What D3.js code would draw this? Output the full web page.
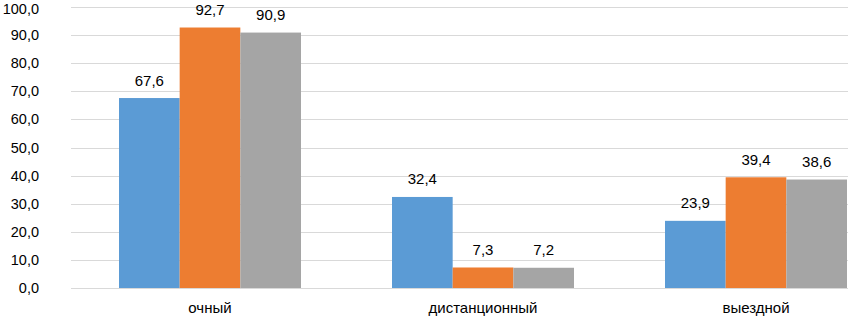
<!DOCTYPE html>
<html>
<head>
<meta charset="utf-8">
<script src="https://cdn.jsdelivr.net/npm/d3@7"></script>
<style>
  body { margin: 0; background: #fff; }
  text { font-family: "Liberation Sans", Arial, sans-serif; fill: #000; }
</style>
</head>
<body>
<svg width="848" height="316"></svg>
<script>
// data
const categories = ["очный", "дистанционный", "выездной"];
const seriesNames = ["s1", "s2", "s3"];
const s1 = [67.6, 32.4, 23.9];
const s2 = [92.7, 7.3, 39.4];
const s3 = [90.9, 7.2, 38.6];
const colors = ["#5b9bd5", "#ed7d31", "#a5a5a5"];
const yTicks = [0, 10, 20, 30, 40, 50, 60, 70, 80, 90, 100];

let svg = d3.select('svg');
let fmt = v => v.toFixed(1).replace('.', ',');

let y = d3.scaleLinear().domain([0, 100]).range([288, 7]);
// plot runs off the right edge, like the source image
let x0 = d3.scaleBand().domain(categories).range([73.5, 892.5])
  .paddingInner(1 / 3).paddingOuter(1 / 6);
let x1 = d3.scaleBand().domain(seriesNames).range([0, x0.bandwidth()]);

// grid
svg.append('g')
  .selectAll('line')
  .data(yTicks)
  .join('line')
  .attr('x1', 71).attr('x2', 848)
  .attr('y1', d => Math.round(y(d)) + 0.5)
  .attr('y2', d => Math.round(y(d)) + 0.5)
  .attr('stroke', '#d9d9d9')
  .attr('stroke-width', 1);

// y labels (top one kept inside the frame)
svg.append('g')
  .selectAll('text')
  .data(yTicks)
  .join('text')
  .attr('x', 39)
  .attr('y', d => Math.max(y(d) + 5, 13.5))
  .attr('text-anchor', 'end')
  .attr('font-size', 14.5)
  .text(fmt);

let allSeries = [s1, s2, s3];
let rows = [];
categories.forEach((c, i) => {
  allSeries.forEach((s, j) => {
    rows.push({ cat: c, name: seriesNames[j], value: s[i], color: colors[j] });
  });
});

svg.append('g')
  .selectAll('rect')
  .data(rows)
  .join('rect')
  .attr('x', d => x0(d.cat) + x1(d.name))
  .attr('width', x1.bandwidth())
  .attr('y', d => y(d.value))
  .attr('height', d => y(0) - y(d.value))
  .attr('fill', d => d.color);

svg.append('g')
  .selectAll('text')
  .data(rows)
  .join('text')
  .attr('x', d => x0(d.cat) + x1(d.name) + x1.bandwidth() / 2)
  .attr('y', d => y(d.value) - 12.5)
  .attr('text-anchor', 'middle')
  .attr('font-size', 15)
  .text(d => fmt(d.value));

// category labels
svg.append('g')
  .selectAll('text')
  .data(categories)
  .join('text')
  .attr('x', d => x0(d) + x0.bandwidth() / 2)
  .attr('y', 313)
  .attr('text-anchor', 'middle')
  .attr('font-size', 15)
  .text(d => d);
</script>
</body>
</html>
